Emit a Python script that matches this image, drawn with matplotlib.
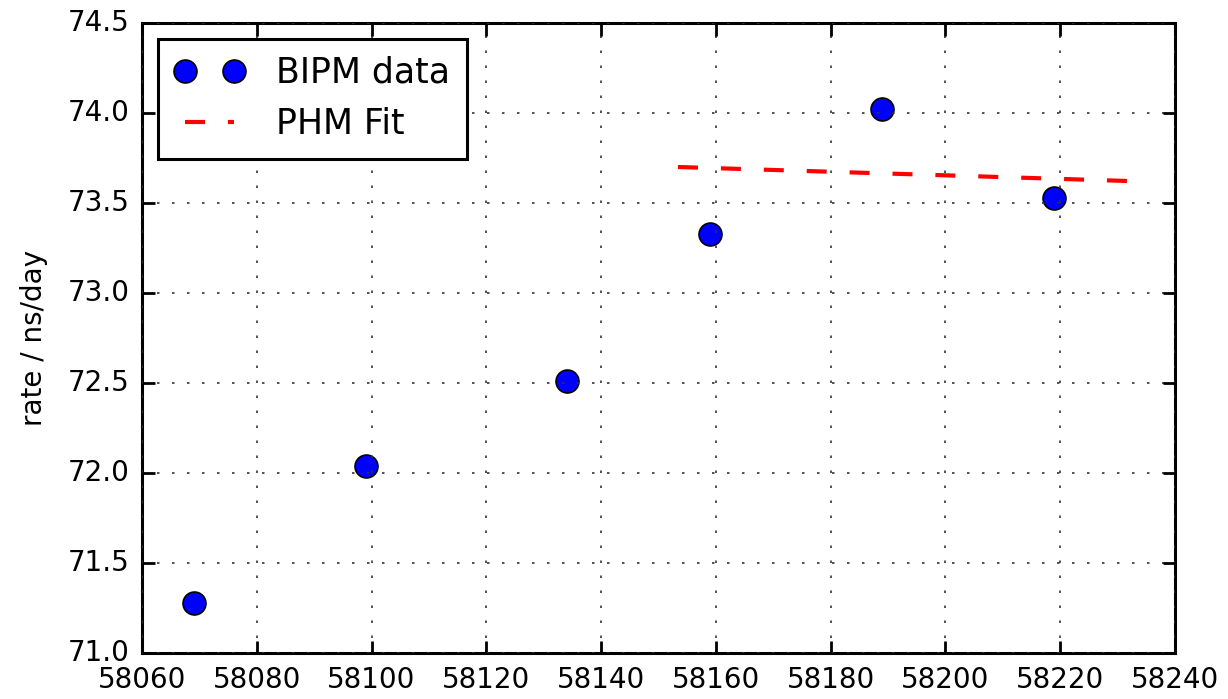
import matplotlib
matplotlib.use("Agg")
import matplotlib.pyplot as plt

plt.style.use("classic")
plt.rcParams["lines.scale_dashes"] = False

# BIPM data points
mjd = [58069, 58099, 58134, 58159, 58189, 58219]
rate = [71.28, 72.04, 72.51, 73.33, 74.02, 73.53]

# PHM fit line endpoints
fit_mjd = [58153.4, 58234]
fit_rate = [73.70, 73.62]

fig = plt.figure(figsize=(12.28, 6.99), dpi=100)
ax = fig.add_axes([142 / 1228, 46 / 699, 1033 / 1228, 630 / 699])

ax.plot(mjd, rate, "o", color="b", markersize=16.5, markeredgewidth=1.2,
        label="BIPM data")
ax.plot(fit_mjd, fit_rate, color="r", linewidth=3, dashes=(14.4, 16.5),
        label="PHM Fit")

ax.set_xlim(58060, 58240)
ax.set_ylim(71.0, 74.5)
ax.set_ylabel("rate / ns/day", fontsize=20, labelpad=14)
ax.tick_params(labelsize=20, width=2, length=9, pad=9)
ax.ticklabel_format(useOffset=False, axis="both")
for sp in ax.spines.values():
    sp.set_linewidth(2.2)
ax.grid(True, color="#333333", linewidth=1.2, dashes=(1.8, 9))
leg = ax.legend(loc="upper left", fontsize=25, numpoints=2, borderpad=0.5,
                borderaxespad=0.45, handletextpad=0.9)
leg.get_frame().set_linewidth(2.2)

fig.savefig("out.png", dpi=100)
